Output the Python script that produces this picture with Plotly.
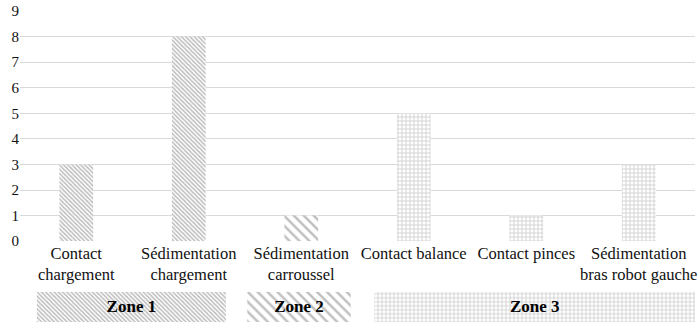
import plotly.graph_objects as go

categories = ["Contact<br>chargement", "Sédimentation<br>chargement", "Sédimentation<br>carroussel",
              "Contact balance", "Contact pinces", "Sédimentation<br>bras robot gauche"]
values = [3, 8, 1, 5, 1, 3]
zone_of = ["Zone 1", "Zone 1", "Zone 2", "Zone 3", "Zone 3", "Zone 3"]
zones = ["Zone 1", "Zone 2", "Zone 3"]
y_ticks = list(range(0, 10))

pattern_style = {
    "Zone 1": dict(shape="\\", size=3, solidity=0.5, fgcolor="#7a7a7a"),
    "Zone 2": dict(shape="\\", size=7, solidity=0.35, fgcolor="#808080"),
    "Zone 3": dict(shape="+", size=4, solidity=0.35, fgcolor="#959595"),
}
# zone box extents relative to first/last category index (style padding)
pad_left = {"Zone 1": 0.35, "Zone 2": 0.48, "Zone 3": 0.35}
pad_right = {"Zone 1": 0.33, "Zone 2": 0.44, "Zone 3": 0.5}

FONT = "Liberation Serif, Times New Roman, serif"
idx = list(range(len(categories)))

fig = go.Figure()
for z in zones:
    xs = [i for i in idx if zone_of[i] == z]
    fig.add_trace(go.Bar(
        x=xs, y=[values[i] for i in xs], width=0.3,
        marker=dict(color="white", line=dict(width=0), pattern=pattern_style[z]),
        showlegend=False, xaxis="x", yaxis="y"))

for z in zones:
    xs = [i for i in idx if zone_of[i] == z]
    start = min(xs) - pad_left[z]
    end = max(xs) + pad_right[z]
    fig.add_trace(go.Bar(
        y=[0], x=[end - start], base=[start], orientation="h", width=1,
        marker=dict(color="white", line=dict(width=0), pattern=pattern_style[z]),
        text=["<b>" + z + "</b>"], textposition="inside", insidetextanchor="middle",
        textfont=dict(family=FONT, size=17, color="#000000"),
        showlegend=False, xaxis="x2", yaxis="y2"))

fig.update_layout(
    width=700, height=333,
    margin=dict(l=20, r=3, t=8, b=6),
    paper_bgcolor="white", plot_bgcolor="white",
    font=dict(family=FONT, size=16, color="#111111"),
    barmode="overlay",
    xaxis=dict(domain=[0, 1], range=[-0.5, 5.5], tickmode="array", tickvals=idx, ticktext=categories,
               showgrid=False, zeroline=False, showline=False, ticks="", anchor="y",
               tickfont=dict(family=FONT, size=16.5, color="#111111")),
    yaxis=dict(domain=[0.26, 1], range=[0, 9], tickvals=y_ticks, showgrid=True, gridcolor="#d9d9d9",
               gridwidth=1, zeroline=False, showline=False, ticks="",
               tickfont=dict(family=FONT, size=15, color="#111111")),
    xaxis2=dict(domain=[0, 1], range=[-0.5, 5.5], anchor="y2", visible=False),
    yaxis2=dict(domain=[0, 0.097], range=[-0.5, 0.5], anchor="x2", visible=False),
)
fig.write_html("out.html")
